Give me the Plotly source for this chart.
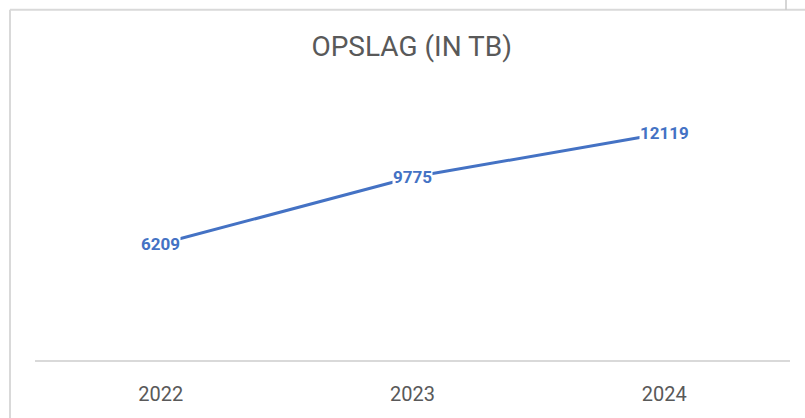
import plotly.graph_objects as go

years = ["2022", "2023", "2024"]
storage_tb = [6209, 9775, 12119]
title_text = "OPSLAG (IN TB)"

line_color = "#4472C4"
text_gray = "#595959"
frame_gray = "#d9d9d9"

fig = go.Figure()
fig.add_trace(go.Scatter(
    x=years, y=storage_tb, mode="lines",
    line=dict(color=line_color, width=3),
    hoverinfo="skip", showlegend=False,
))

for i, v in enumerate(storage_tb):
    fig.add_annotation(
        x=i, y=v, xref="x", yref="y", text=f"<b>{v}</b>",
        showarrow=False, bgcolor="white", borderpad=0,
        font=dict(family="Roboto", size=17, color=line_color),
        xanchor="center", yanchor="middle",
    )

W, H = 805, 418
L, R, T, B = 35, 15, 98, 53
pw, ph = W - L - R, H - T - B

def px(x):
    return (x - L) / pw

def py(y):
    return (H - B - y) / ph

# chart frame (left and top edges of the chart box)
fig.add_shape(type="line", xref="paper", yref="paper",
              x0=px(10), x1=px(10), y0=py(425), y1=py(8),
              line=dict(color=frame_gray, width=2))
fig.add_shape(type="line", xref="paper", yref="paper",
              x0=px(10), x1=px(812), y0=py(8), y1=py(8),
              line=dict(color=frame_gray, width=2))
fig.add_shape(type="line", xref="paper", yref="paper",
              x0=px(786), x1=px(786), y0=py(8), y1=py(-2),
              line=dict(color="#c8c8c8", width=1.5))

fig.update_layout(
    width=W, height=H,
    margin=dict(l=L, r=R, t=T, b=B),
    paper_bgcolor="white", plot_bgcolor="white",
    title=dict(text=title_text, x=px(411.7), xref="paper", xanchor="center",
               y=1 - 46.5 / H, yref="container", yanchor="middle",
               font=dict(family="Roboto", size=28, color=text_gray)),
    xaxis=dict(type="category", range=[-0.5, 2.5], showgrid=False,
               showline=True, linecolor=frame_gray, linewidth=1.5,
               ticks="", ticklabelstandoff=15,
               tickfont=dict(family="Roboto", size=20, color=text_gray),
               zeroline=False, fixedrange=True),
    yaxis=dict(range=[0, 14000], visible=False, showgrid=False,
               zeroline=False, fixedrange=True),
    hovermode=False,
)

fig.write_html("out.html", config={"displayModeBar": False},
               post_script="document.body.style.margin='0';")
